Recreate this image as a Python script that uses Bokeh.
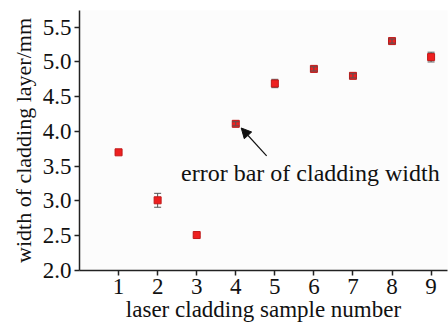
from bokeh.plotting import figure
from bokeh.models import Range1d, FixedTicker, Whisker, ColumnDataSource, Arrow, NormalHead, Label, TeeHead, CustomJSTickFormatter
from bokeh.embed import file_html
from bokeh.resources import INLINE

samples = [1, 2, 3, 4, 5, 6, 7, 8, 9]
width_mm = [3.70, 3.01, 2.51, 4.11, 4.69, 4.90, 4.80, 5.30, 5.07]
error_mm = [0.02, 0.10, 0.02, 0.03, 0.06, 0.03, 0.03, 0.03, 0.07]
y_ticks = [2.0, 2.5, 3.0, 3.5, 4.0, 4.5, 5.0, 5.5]

FONT = "Liberation Serif"

p = figure(width=448, height=327, output_backend="svg", toolbar_location=None,
           x_range=Range1d(0, 9.42), y_range=Range1d(2.0, 5.74),
           min_border_left=79, min_border_right=1, min_border_top=10, min_border_bottom=57)
p.background_fill_color = "#fcfcfc"
p.border_fill_color = "white"
p.outline_line_color = None
p.grid.visible = False

lo = [v - e for v, e in zip(width_mm, error_mm)]
hi = [v + e for v, e in zip(width_mm, error_mm)]
src = ColumnDataSource(dict(x=samples, y=width_mm, lo=lo, hi=hi))
small = [i for i, e in enumerate(error_mm) if e < 0.05 and e > 0.025]
src_small = ColumnDataSource(dict(x=[samples[i] for i in small],
                                  lo=[lo[i] for i in small], hi=[hi[i] for i in small]))

def add_whisker(source, level):
    w = Whisker(source=source, base="x", lower="lo", upper="hi", line_color="#555555", line_width=1,
                upper_head=TeeHead(size=7, line_color="#555555"),
                lower_head=TeeHead(size=7, line_color="#555555"), level=level)
    p.add_layout(w)

add_whisker(src, "underlay")
p.scatter("x", "y", source=src, marker="square", size=7, fill_color="#ee2020", line_color="#c01818")
add_whisker(src_small, "overlay")

for ax in (p.xaxis, p.yaxis):
    ax.axis_line_color = "#222222"
    ax.axis_line_width = 1.5
    ax.major_tick_line_color = "#222222"
    ax.major_tick_line_width = 1.5
    ax.major_tick_out = 5
    ax.major_tick_in = 0
    ax.minor_tick_line_color = None
    ax.major_label_text_font = FONT
    ax.major_label_text_font_size = "23px"
    ax.major_label_text_color = "#111111"
    ax.axis_label_text_font = FONT
    ax.axis_label_text_font_style = "normal"
    ax.axis_label_text_color = "#111111"

p.xaxis.axis_label_text_font_size = "23px"
p.yaxis.axis_label_text_font_size = "22px"
p.xaxis.ticker = FixedTicker(ticks=samples)
p.yaxis.ticker = FixedTicker(ticks=y_ticks)
p.yaxis.formatter = CustomJSTickFormatter(code="return tick.toFixed(1);")
p.xaxis.axis_label = "laser cladding sample number"
p.yaxis.axis_label = "width of cladding layer/mm"
p.xaxis.axis_label_standoff = 0
p.yaxis.axis_label_standoff = 4
p.xaxis.major_label_standoff = 3
p.yaxis.major_label_standoff = 3

p.add_layout(Arrow(end=NormalHead(size=10, fill_color="#111111", line_color="#111111"),
                   x_start=4.79, y_start=3.65, x_end=4.14, y_end=4.05,
                   line_color="#111111", line_width=1.2))
p.add_layout(Label(x=2.6, y=3.40, text="error bar of cladding width", text_font=FONT,
                   text_font_size="24px", text_color="#111111", text_baseline="alphabetic"))

open("out.html", "w").write(file_html(p, INLINE))
